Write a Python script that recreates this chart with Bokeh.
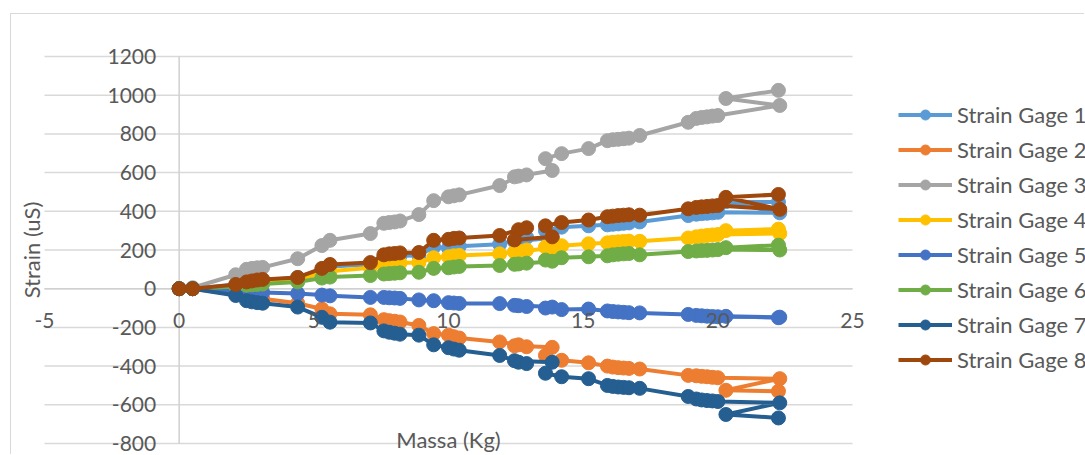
import math
from bokeh.plotting import figure
from bokeh.models import Label, Legend, LegendItem, Range1d
from bokeh.embed import file_html
from bokeh.resources import INLINE

# ---------------- data ----------------
massa = [0, 0.5, 2.1, 2.5, 2.7, 2.9, 3.1, 4.4, 5.3, 5.6, 7.1, 7.6, 7.8, 8.0, 8.2, 8.9, 9.45,
         10.0, 10.2, 10.4, 11.9, 12.6, 12.9, 12.45, 13.85, 13.6, 14.2, 15.2, 15.9, 16.1, 16.3,
         16.5, 16.7, 17.1, 18.9, 19.2, 19.4, 19.6, 19.8, 20.0, 22.3, 20.3, 22.25]

gage1 = [0, 0, 20, 32, 36, 40, 42, 58, 100, 115, 125, 160, 163, 166, 170, 172, 215,
         210, 215, 220, 230, 255, 265, 245, 262, 300, 318, 325, 330, 333, 335,
         338, 340, 345, 378, 385, 388, 390, 392, 395, 392, 450, 448]
gage2 = [0, 0, -30, -45, -48, -50, -52, -75, -105, -130, -135, -160, -165, -168, -172, -190, -232,
         -240, -248, -255, -275, -290, -300, -295, -303, -345, -370, -383, -400, -405, -408,
         -410, -412, -415, -448, -450, -453, -455, -458, -460, -465, -525, -530]
gage3 = [0, 5, 72, 100, 105, 108, 110, 155, 223, 250, 285, 338, 342, 345, 350, 383, 455,
         475, 480, 485, 533, 582, 588, 578, 611, 672, 698, 724, 765, 770, 772,
         775, 778, 792, 860, 880, 885, 888, 892, 895, 947, 983, 1025]
gage4 = [0, 0, 15, 25, 28, 30, 32, 48, 80, 90, 108, 125, 128, 130, 133, 135, 160,
         165, 170, 172, 180, 195, 200, 190, 210, 215, 222, 232, 237, 240, 242,
         244, 246, 245, 262, 268, 272, 275, 278, 280, 285, 300, 308]
gage5 = [0, 0, -12, -15, -17, -18, -20, -25, -33, -37, -45, -45, -47, -48, -50, -58, -62,
         -72, -74, -76, -77, -88, -92, -86, -95, -100, -108, -105, -115, -118, -120,
         -122, -124, -125, -133, -138, -140, -142, -144, -145, -147, -143, -150]
gage6 = [0, 0, 12, 18, 20, 22, 24, 35, 55, 60, 68, 76, 78, 80, 82, 85, 105,
         108, 112, 115, 120, 128, 132, 126, 142, 148, 160, 165, 170, 175, 178,
         180, 182, 175, 192, 195, 197, 198, 200, 202, 200, 212, 225]
gage7 = [0, 0, -35, -62, -68, -72, -75, -95, -148, -173, -177, -218, -225, -230, -235, -240, -290,
         -305, -312, -318, -345, -380, -387, -372, -380, -437, -455, -465, -500, -505, -508,
         -510, -512, -515, -557, -570, -575, -578, -580, -583, -590, -650, -668]
gage8 = [0, 0, 22, 35, 40, 45, 48, 58, 105, 125, 135, 175, 180, 182, 185, 187, 250,
         255, 260, 262, 275, 305, 315, 252, 268, 325, 342, 355, 372, 375, 378,
         380, 382, 380, 413, 420, 423, 425, 428, 430, 410, 472, 487]

series_names = ["Strain Gage 1", "Strain Gage 2", "Strain Gage 3", "Strain Gage 4",
                "Strain Gage 5", "Strain Gage 6", "Strain Gage 7", "Strain Gage 8"]
series_values = [gage1, gage2, gage3, gage4, gage5, gage6, gage7, gage8]
colors = ["#5B9BD5", "#ED7D31", "#A5A5A5", "#FFC000", "#4472C4", "#70AD47", "#255E91", "#9E480E"]

x_ticks = [-5, 0, 5, 10, 15, 20, 25]
y_ticks = [-800, -600, -400, -200, 0, 200, 400, 600, 800, 1000, 1200]
x_title = "Massa (Kg)"
y_title = "Strain (uS)"

FONT = "Lato"
TICK_SIZE = "21px"
TEXT_SIZE = "22px"
TXT = "#595959"
GRID = "#d9d9d9"

# ---------------- layout (pixels) ----------------
CANVAS_W, CANVAS_H = 1074, 441          # canvas placed at page (11, 14)
ORIGIN_X, ORIGIN_Y = 11, 14
PA_LEFT, PA_RIGHT = 44, 852             # plot area in page pixels
PA_TOP, PA_BOTTOM = 56, 443
xmin, xmax = x_ticks[0], x_ticks[-1]
ymin, ymax = y_ticks[0], y_ticks[-1]
sx = (PA_RIGHT - PA_LEFT) / (xmax - xmin)
sy = (PA_BOTTOM - PA_TOP) / (ymax - ymin)
x_start = xmin - (PA_LEFT - ORIGIN_X) / sx
x_end = xmax + (ORIGIN_X + CANVAS_W - PA_RIGHT) / sx
y_end = ymax + (PA_TOP - ORIGIN_Y) / sy
y_start = ymin - (ORIGIN_Y + CANVAS_H - PA_BOTTOM) / sy

p = figure(width=CANVAS_W, height=CANVAS_H,
           x_range=Range1d(x_start, x_end), y_range=Range1d(y_start, y_end),
           x_axis_type=None, y_axis_type=None,
           output_backend="svg", toolbar_location=None,
           min_border=0)
p.outline_line_color = None
p.margin = (13, 0, 0, 10)
p.styles = {"border-top": "1px solid #d9d9d9", "border-left": "1px solid #d9d9d9"}

# horizontal gridlines over the plot area
p.segment(x0=[xmin] * len(y_ticks), x1=[xmax] * len(y_ticks), y0=y_ticks, y1=y_ticks,
          line_color=GRID, line_width=1.5)
# axis lines crossing at zero
p.segment(x0=[0], x1=[0], y0=[ymin], y1=[ymax], line_color="#d0d0d0", line_width=1.5)
p.segment(x0=[xmin], x1=[xmax], y0=[0], y1=[0], line_color="#d0d0d0", line_width=1.5)

items = []
for name, ys, c in zip(series_names, series_values, colors):
    rl = p.line(massa, ys, line_color=c, line_width=4)
    rs = p.scatter(massa, ys, size=14, fill_color=c, line_color=c)
    items.append(LegendItem(label=name, renderers=[rl, rs]))

legend = Legend(items=items, location=(898 - ORIGIN_X, 82), padding=0, margin=0,
                spacing=8, glyph_width=54, glyph_height=25, label_height=25,
                label_standoff=5, border_line_alpha=0, background_fill_alpha=0,
                label_text_font=FONT, label_text_font_size=TEXT_SIZE, label_text_color=TXT)
p.add_layout(legend)

for v in y_ticks:
    p.add_layout(Label(x=0, y=v, text=str(v), x_offset=-23, text_align="right",
                       text_baseline="middle", text_font=FONT, text_font_size=TICK_SIZE,
                       text_color=TXT))
for v in x_ticks:
    p.add_layout(Label(x=v, y=0, text=str(v), y_offset=-32, text_align="center",
                       text_baseline="middle", text_font=FONT, text_font_size=TICK_SIZE,
                       text_color=TXT))

p.add_layout(Label(x=xmin, y=(ymin + ymax) / 2, text=y_title, x_offset=-13, angle=math.pi / 2,
                   text_align="center", text_baseline="middle", text_font=FONT,
                   text_font_size=TEXT_SIZE, text_color=TXT))
p.add_layout(Label(x=(xmin + xmax) / 2, y=ymin, text=x_title, y_offset=4, text_align="center",
                   text_baseline="middle", text_font=FONT, text_font_size=TEXT_SIZE,
                   text_color=TXT))

open("out.html", "w").write(file_html(p, INLINE))
